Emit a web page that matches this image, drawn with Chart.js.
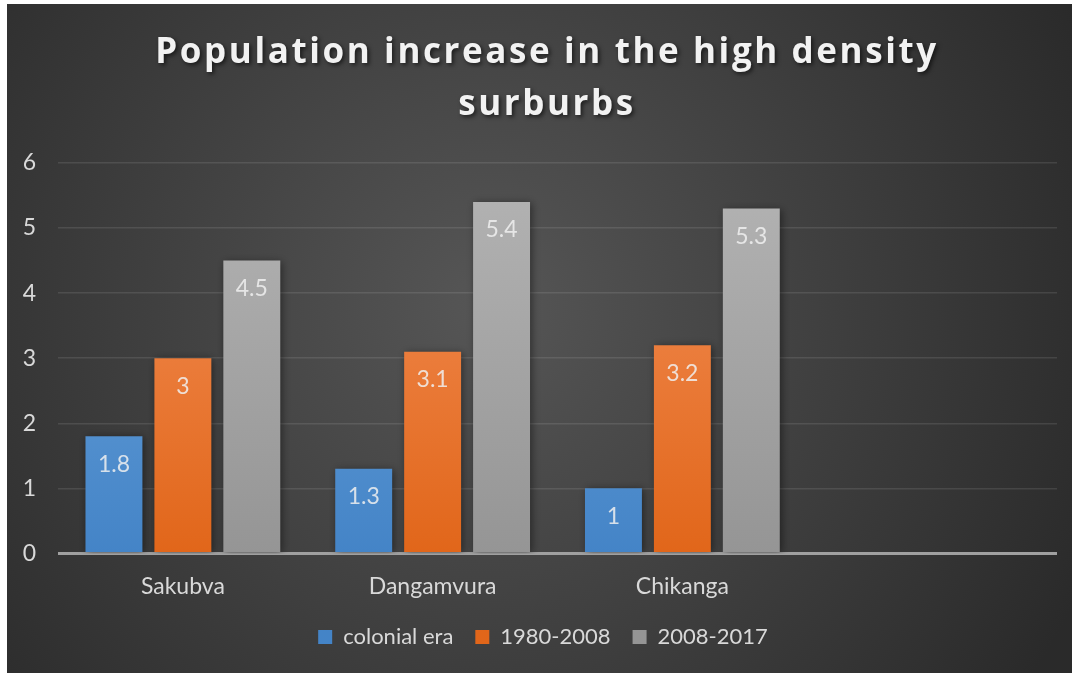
<!DOCTYPE html>
<html>
<head>
<meta charset="utf-8">
<script src="https://cdn.jsdelivr.net/npm/chart.js@4.4.1/dist/chart.umd.min.js"></script>
<style>
  html, body { margin: 0; padding: 0; background: #fff; }
  #wrap { position: absolute; left: 7px; top: 4px; width: 1065px; height: 669px; }
</style>
</head>
<body>
<div id="wrap"><canvas id="graficoBarras"></canvas></div>
<script>
const CATEGORIAS = ['Sakubva', 'Dangamvura', 'Chikanga', ''];
const COLONIAL = [1.8, 1.3, 1, null];
const PERIODO_1980 = [3, 3.1, 3.2, null];
const PERIODO_2008 = [4.5, 5.4, 5.3, null];
const TICKS_Y = [0, 1, 2, 3, 4, 5, 6];
const TITULO = ['Population increase in the high density', 'surburbs'];

const TEXTO = '#d9d9d9';
const FUENTE = 'Lato, "Open Sans", sans-serif';

// gradient for each bar, from top of chart area to bottom
function degradado(arriba, abajo) {
    return function (context) {
        const area = context.chart.chartArea;
        if (!area) return abajo;
        const g = context.chart.ctx.createLinearGradient(0, area.top, 0, area.bottom);
        g.addColorStop(0, arriba);
        g.addColorStop(1, abajo);
        return g;
    };
}

// dark radial background
const fondo = {
    id: 'fondo',
    beforeDraw(chart) {
        const ctx = chart.ctx;
        const w = chart.width, h = chart.height;
        const g = ctx.createRadialGradient(w * 0.45, h * 0.45, 0, w * 0.45, h * 0.45, w * 0.62);
        g.addColorStop(0, '#565656');
        g.addColorStop(1, '#2a2a2a');
        ctx.save();
        ctx.fillStyle = g;
        ctx.fillRect(0, 0, w, h);
        ctx.restore();
    }
};

// spaced-out title with a drop shadow (the built-in title has no letter spacing)
const titulo = {
    id: 'titulo',
    afterDraw(chart) {
        const ctx = chart.ctx;
        ctx.save();
        ctx.font = 'bold 35px "Open Sans", sans-serif';
        ctx.letterSpacing = '2.6px';
        ctx.fillStyle = '#f2f2f2';
        ctx.textAlign = 'center';
        ctx.textBaseline = 'alphabetic';
        ctx.shadowColor = 'rgba(0,0,0,0.6)';
        ctx.shadowBlur = 4;
        ctx.shadowOffsetX = 2;
        ctx.shadowOffsetY = 2;
        ctx.fillText(TITULO[0], 540, 59);
        ctx.fillText(TITULO[1], 540, 111);
        ctx.restore();
    }
};

// legend sits a bit right of centre in the original
const moverLeyenda = {
    id: 'moverLeyenda',
    afterLayout(chart) {
        if (chart.legend) {
            chart.legend.left += 11;
            chart.legend.right += 11;
        }
    }
};

// soft shadow behind the bars
const sombra = {
    id: 'sombra',
    beforeDatasetsDraw(chart) {
        const ctx = chart.ctx;
        ctx.save();
        ctx.shadowColor = 'rgba(0,0,0,0.45)';
        ctx.shadowBlur = 8;
        ctx.shadowOffsetX = 2;
        ctx.shadowOffsetY = 1;
    },
    afterDatasetsDraw(chart) {
        chart.ctx.restore();
    }
};

// value labels inside the bars, near the top
const etiquetas = {
    id: 'etiquetas',
    afterDatasetsDraw(chart) {
        const ctx = chart.ctx;
        ctx.save();
        ctx.font = '23px ' + FUENTE;
        ctx.fillStyle = 'rgba(240,240,240,0.85)';
        ctx.textAlign = 'center';
        ctx.textBaseline = 'middle';
        chart.data.datasets.forEach(function (ds, i) {
            chart.getDatasetMeta(i).data.forEach(function (bar, j) {
                if (ds.data[j] == null) return;
                ctx.fillText(String(ds.data[j]), bar.x, bar.y + 28);
            });
        });
        ctx.restore();
    }
};

const GRAFICO = document.getElementById('graficoBarras');

let graficaBarras = new Chart(GRAFICO, {
    type: 'bar',
    data: {
        labels: CATEGORIAS,
        datasets: [{
            label: 'colonial era',
            data: COLONIAL,
            backgroundColor: degradado('#6fa7dd', '#4484c7')
        }, {
            label: '1980-2008',
            data: PERIODO_1980,
            backgroundColor: degradado('#f4915a', '#e1661a')
        }, {
            label: '2008-2017',
            data: PERIODO_2008,
            backgroundColor: degradado('#b4b4b4', '#959595')
        }]
    },
    options: {
        responsive: true,
        maintainAspectRatio: false,
        animation: false,
        categoryPercentage: 0.828,
        barPercentage: 0.826,
        layout: { padding: { left: 0, right: 15, top: 159, bottom: 15 } },
        plugins: {
            title: { display: false },
            legend: {
                position: 'bottom',
                labels: {
                    color: TEXTO,
                    font: { family: FUENTE, size: 22 },
                    boxWidth: 14,
                    boxHeight: 14,
                    padding: 22
                }
            },
            tooltip: { enabled: false }
        },
        scales: {
            x: {
                afterFit: function (scale) { scale.height = scale.height - 15; },
                grid: { display: false, drawTicks: false },
                border: { display: false },
                ticks: { color: TEXTO, font: { family: FUENTE, size: 23 }, padding: 19 }
            },
            y: {
                min: 0,
                max: 6,
                afterFit: function (scale) { scale.width = 51; },
                afterBuildTicks: function (scale) {
                    scale.ticks = TICKS_Y.map(function (v) { return { value: v }; });
                },
                grid: {
                    drawTicks: false,
                    lineWidth: function (c) { return c.tick.value === 0 ? 3 : 1.5; },
                    color: function (c) { return c.tick.value === 0 ? '#a0a0a0' : 'rgba(255,255,255,0.1)'; }
                },
                border: { display: false },
                ticks: { color: TEXTO, font: { family: FUENTE, size: 23 }, padding: 22 }
            }
        }
    },
    plugins: [fondo, moverLeyenda, sombra, etiquetas, titulo]
});
</script>
</body>
</html>
